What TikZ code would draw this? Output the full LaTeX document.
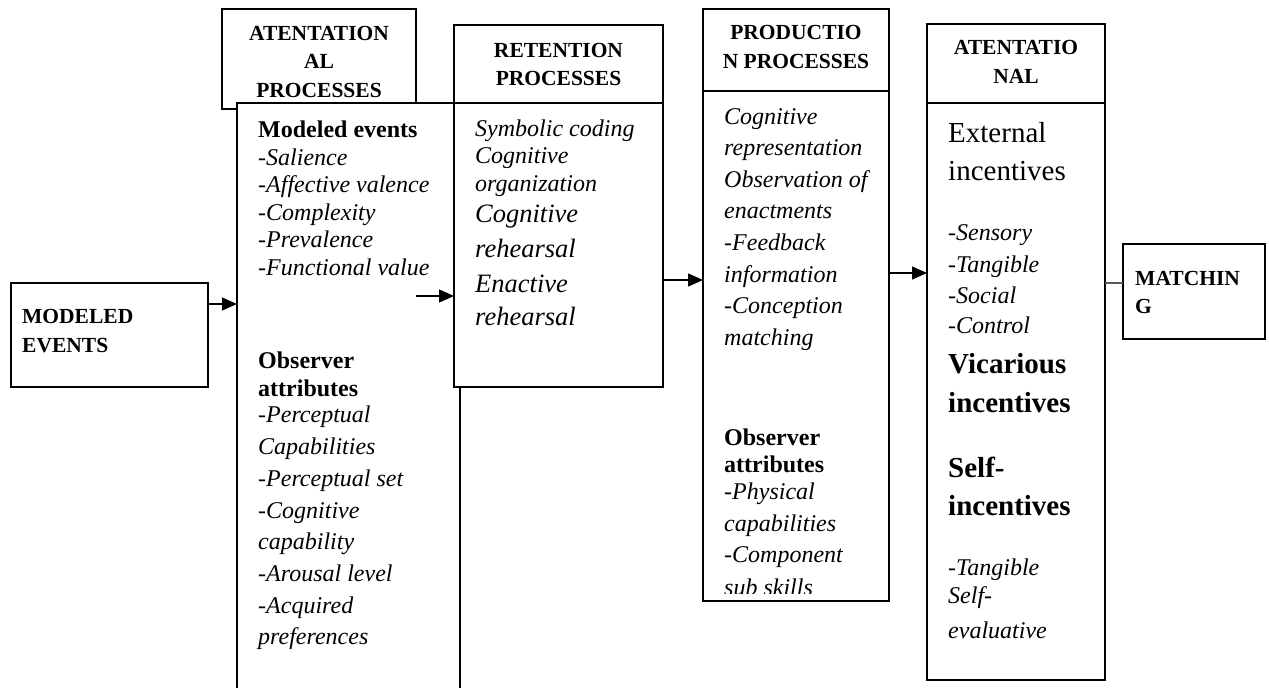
\documentclass[tikz,border=0pt]{standalone}
\usepackage{fontspec}
\setmainfont{Liberation Serif}
\usetikzlibrary{arrows.meta, positioning}

\begin{document}
\begin{tikzpicture}[x=1pt, y=-1pt, >={Triangle[length=15pt, width=13pt]},
  box/.style={draw, line width=1.4pt, fill=white, inner sep=0pt, outer sep=0pt, anchor=north west},
  head/.style={font=\fontsize{21.5}{28}\selectfont\bfseries, inner sep=0pt, anchor=base},
  lhead/.style={head, anchor=base west},
  item/.style={font=\fontsize{24}{28}\selectfont\itshape, inner sep=0pt, anchor=base west},
  bigitem/.style={item, font=\fontsize{26.5}{30}\selectfont\itshape},
  sub/.style={item, font=\fontsize{24}{28}\selectfont\bfseries},
  bigsub/.style={item, font=\fontsize{29}{34}\selectfont\bfseries},
  plain/.style={item, font=\fontsize{29}{34}\selectfont},
  arr/.style={->, line width=1.2pt},
  link/.style={line width=1.4pt, black!65}]

  % Page
  \useasboundingbox (0,0) rectangle (1269,688);
  \clip (0,0) rectangle (1269,688);
  \fill[white] (0,0) rectangle (1269,688);

  % Modeled events
  \node[box, minimum width=197pt, minimum height=104pt] (me) at (11,283) {};
  \node[lhead] (me1) at (22,323) {MODELED};
  \node[lhead] (me2) at (22,352) {EVENTS};

  % Attentional processes
  \node[box, minimum width=194pt, minimum height=100pt] (atthead) at (222,9) {};
  \node[box, minimum width=223pt, minimum height=600pt] (attbody) at (237,103) {};
  \node[head] (ah1) at (atthead |- 0,40) {ATENTATION};
  \node[head] (ah2) at (atthead |- 0,68) {AL};
  \node[head] (ah3) at (atthead |- 0,97) {PROCESSES};
  \node[sub] (at0) at (258,137) {Modeled events};
  \foreach \y/\t [count=\i] in {165/-Salience, 192/-Affective valence, 220/-Complexity,
      247/-Prevalence, 275/-Functional value}
    \node[item] (ata\i) at (258,\y) {\t};
  \node[sub] (at1) at (258,368) {Observer};
  \node[sub] (at2) at (258,396) {attributes};
  \foreach \y/\t [count=\i] in {422/-Perceptual, 454/Capabilities, 486/-Perceptual set,
      518/-Cognitive, 549/capability, 581/-Arousal level, 613/-Acquired, 644/preferences}
    \node[item] (atb\i) at (258,\y) {\t};

  % Retention processes
  \node[box, minimum width=209pt, minimum height=78pt] (rethead) at (454,25) {};
  \node[box, minimum width=209pt, minimum height=284pt, below=0pt of rethead] (retbody) {};
  \node[head] (rh1) at (rethead |- 0,57) {RETENTION};
  \node[head] (rh2) at (rethead |- 0,85) {PROCESSES};
  \foreach \y/\t [count=\i] in {136/Symbolic coding, 163/Cognitive, 191/organization}
    \node[item] (rta\i) at (475,\y) {\t};
  \foreach \y/\t [count=\i] in {222/Cognitive, 257/rehearsal, 292/Enactive, 325/rehearsal}
    \node[bigitem] (rtb\i) at (475,\y) {\t};

  % Production processes
  \node[box, minimum width=186pt, minimum height=82pt] (prodhead) at (703,9) {};
  \node[box, minimum width=186pt, minimum height=510pt, below=0pt of prodhead] (prodbody) {};
  \node[head] (ph1) at (prodhead |- 0,39) {PRODUCTIO};
  \node[head] (ph2) at (prodhead |- 0,68) {N PROCESSES};
  \foreach \y/\t [count=\i] in {124/Cognitive, 155/representation, 187/Observation of,
      218/enactments, 250/-Feedback, 282/information, 313/-Conception, 345/matching}
    \node[item] (pta\i) at (724,\y) {\t};
  \node[sub] (pt1) at (724,445) {Observer};
  \node[sub] (pt2) at (724,472) {attributes};
  \begin{scope}
    \clip (prodbody.north west) rectangle ([yshift=8pt]prodbody.south east);
    \foreach \y/\t [count=\i] in {499/-Physical, 531/capabilities, 562/-Component, 595/sub skills}
      \node[item] (ptb\i) at (724,\y) {\t};
  \end{scope}

  % Attentional (incentives)
  \node[box, minimum width=178pt, minimum height=79pt] (att2head) at (927,24) {};
  \node[box, minimum width=178pt, minimum height=577pt, below=0pt of att2head] (att2body) {};
  \node[head] (bh1) at (att2head |- 0,54) {ATENTATIO};
  \node[head] (bh2) at (att2head |- 0,83) {NAL};
  \node[plain] (bt1) at (948,142) {External};
  \node[plain] (bt2) at (948,180) {incentives};
  \foreach \y/\t [count=\i] in {240/-Sensory, 272/-Tangible, 303/-Social, 333/-Control}
    \node[item] (bta\i) at (948,\y) {\t};
  \foreach \y/\t [count=\i] in {373/Vicarious, 412/incentives, 477/Self-, 515/incentives}
    \node[bigsub] (btb\i) at (948,\y) {\t};
  \foreach \y/\t [count=\i] in {575/-Tangible, 603/Self-, 638/evaluative}
    \node[item] (btc\i) at (948,\y) {\t};

  % Matching
  \node[box, minimum width=142pt, minimum height=95pt] (match) at (1123,244) {};
  \node[lhead] (mt1) at (1135,285) {MATCHIN};
  \node[lhead] (mt2) at (1135,313) {G};

  % Connectors
  \coordinate (c1) at ([yshift=31pt]me.east);
  \draw[arr] (c1) -- (c1 -| attbody.west);
  \coordinate (c2) at (416,296);
  \draw[arr] (c2) -- (c2 -| retbody.west);
  \coordinate (c3) at ([yshift=-35pt]retbody.east);
  \draw[arr] (c3) -- (c3 -| prodbody.west);
  \coordinate (c4) at ([yshift=73pt]prodbody.east);
  \draw[arr] (c4) -- (c4 -| att2body.west);
  \coordinate (c5) at ([yshift=8.5pt]match.west);
  \draw[link] (c5 -| att2body.east) -- (c5);
\end{tikzpicture}
\end{document}
